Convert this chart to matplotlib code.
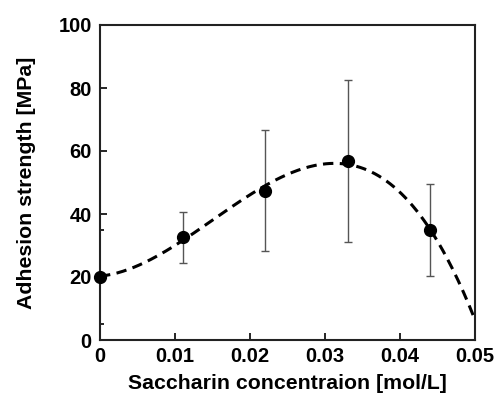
import numpy as np
import matplotlib
matplotlib.use("Agg")
import matplotlib.pyplot as plt
from matplotlib.ticker import MultipleLocator, FixedLocator

plt.rcParams['font.family'] = ['Liberation Sans', 'DejaVu Sans']
plt.rcParams['font.weight'] = 'bold'

conc = [0.0, 0.011, 0.022, 0.033, 0.044]
strength = [20.0, 32.6, 47.4, 56.8, 34.9]
err_low = [0.0, 8.1, 19.1, 25.7, 14.5]
err_high = [0.0, 7.9, 19.3, 25.7, 14.6]

fig = plt.figure(figsize=(4.97, 3.95), dpi=100)
ax = fig.add_axes([100 / 497, 55 / 395, 375 / 497, 315 / 395])

# cubic trend through the measured points
coef = np.polyfit(conc, strength, 3)
xs = np.linspace(0, 0.05, 200)
ax.plot(xs, np.polyval(coef, xs), color='black', lw=2.2, ls=(0, (3.4, 2.1)), zorder=2)

ax.errorbar(conc, strength, yerr=[err_low, err_high], fmt='none', ecolor='#555555',
            elinewidth=1.0, capsize=3, capthick=1.0, zorder=1)
ax.plot(conc, strength, 'o', color='black', ms=8.5, zorder=3, clip_on=False)

ax.set_xlim(0, 0.05)
ax.set_ylim(0, 100)
ax.set_xticks([0, 0.01, 0.02, 0.03, 0.04, 0.05])
ax.set_xticklabels(['0', '0.01', '0.02', '0.03', '0.04', '0.05'])
ax.yaxis.set_major_locator(MultipleLocator(20))
ax.yaxis.set_minor_locator(FixedLocator([5, 35]))
ax.tick_params(direction='in', which='both', labelsize=14.5, width=1.2)
ax.tick_params(axis='x', pad=5)
ax.tick_params(axis='y', pad=6)
ax.tick_params(which='major', length=5)
ax.tick_params(which='minor', length=3)
for s in ax.spines.values():
    s.set_linewidth(1.5)
    s.set_color('#222222')

ax.set_xlabel('Saccharin concentraion [mol/L]', fontsize=15.3, fontweight='bold', labelpad=6)
ax.set_ylabel('Adhesion strength [MPa]', fontsize=15.3, fontweight='bold', labelpad=16)

fig.savefig('out.png', dpi=100)
